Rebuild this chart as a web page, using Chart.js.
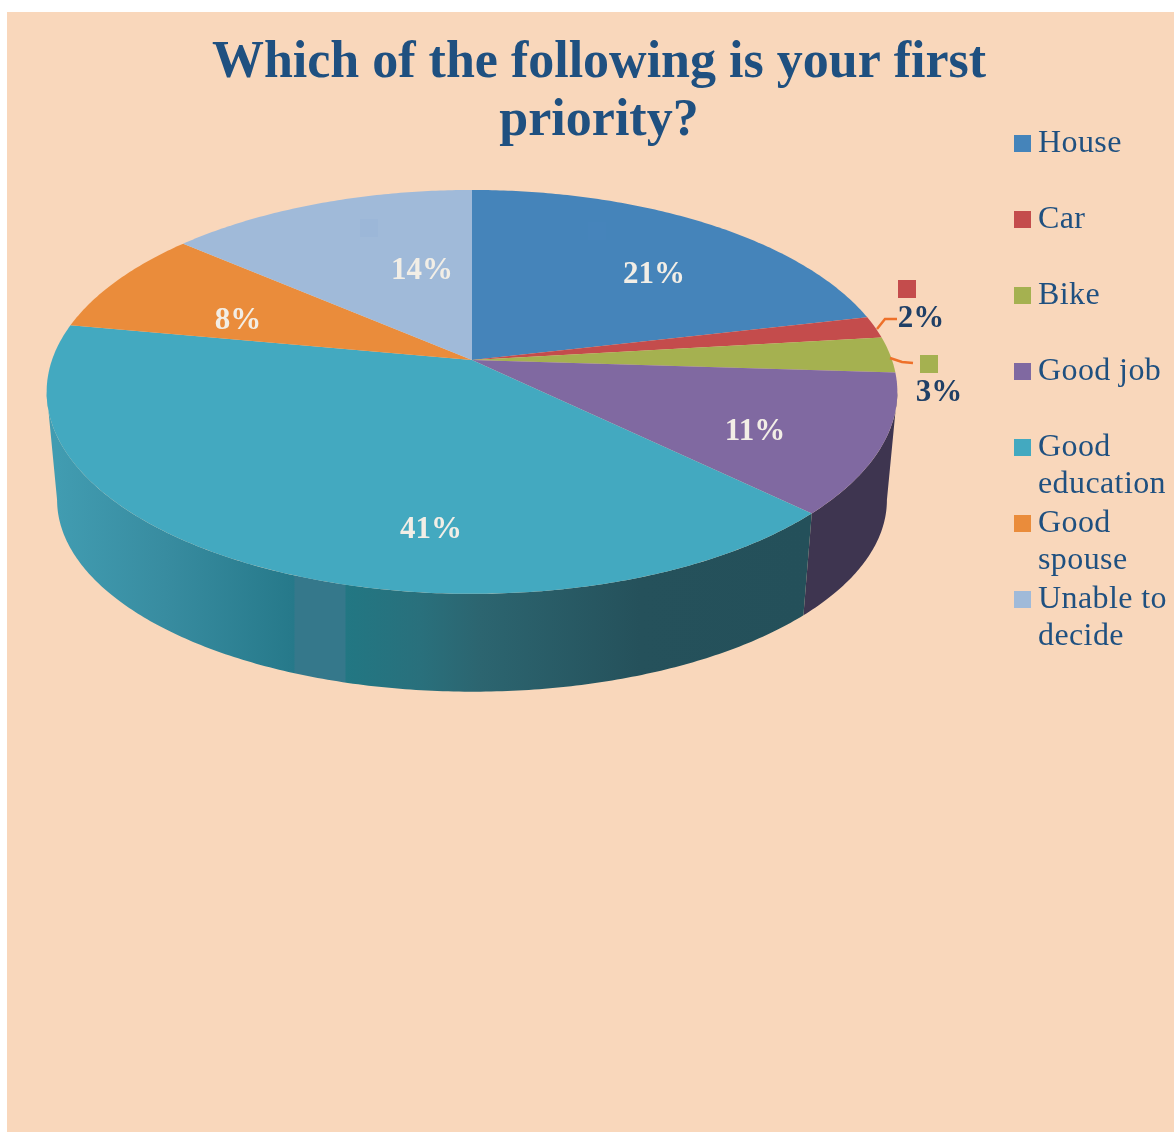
<!DOCTYPE html>
<html>
<head>
<meta charset="utf-8">
<title>First priority</title>
<script src="https://cdn.jsdelivr.net/npm/chart.js@4/dist/chart.umd.min.js"></script>
<style>
  html, body { margin: 0; padding: 0; background: #fff; }
  #peach { position: absolute; left: 7px; top: 12px; width: 1167px; height: 1120px; background: #f9d7bb; }
  #priority { position: absolute; left: 0; top: 0; }
</style>
</head>
<body>
<div id="peach"></div>
<canvas id="priority" width="1174" height="1132"></canvas>
<script>
// the answers, in the order they go round the pie
const categories = ['House', 'Car', 'Bike', 'Good job', ['Good', 'education'], ['Good', 'spouse'], ['Unable to', 'decide']]
const shares = [21.4, 1.75, 2.85, 11.2, 40.7, 8.4, 13.7]
const sliceColors = ['#4584ba', '#c44c4c', '#a5b150', '#8069a1', '#43a9c0', '#ea8c3b', '#a0bad9']

const titleLines = ['Which of the following is your first', 'priority?']

// where the percent text sits, same order as categories
const labelSpots = [[654, 275], [921, 319], [939, 393], [755, 432], [431, 530], [238, 321], [422, 271]]
const labelColors = ['#f2eee6', '#1f3f66', '#1f3f66', '#f2eee6', '#f2eee6', '#f2eee6', '#f2eee6']
const outerKeys = [[1, 898, 280], [2, 920, 355]]
const faintKeys = [[0, 588, 222], [6, 360, 219]]
const leaders = [[[877, 329], [885, 319], [897, 319]], [[890, 358], [902, 362], [913, 363]]]

// flat disc seen in perspective: apex is not the middle of the ellipse
const tilt = 0.158
const topFace = { x: 472, y: 360, a: 420, b: 196.9 }
const bottomFace = { x: 472, y: 469.6, a: 409.7, b: 187 }
const silhouette = Math.acos(-tilt)

function project(face, theta) {
  const u = Math.sin(theta)
  const v = -Math.cos(theta)
  const w = 1 - tilt * v
  return [face.x + face.a * u / w, face.y + face.b * v / w]
}

function traceArc(ctx, face, from, to) {
  const steps = Math.max(2, Math.ceil(Math.abs(to - from) * 90))
  for (let i = 0; i <= steps; i++) {
    const p = project(face, from + (to - from) * i / steps)
    ctx.lineTo(p[0], p[1])
  }
}

function sideFill(ctx, index) {
  if (index == 3) return '#3e3550'
  const g = ctx.createLinearGradient(57, 0, 806, 0)
  const stops = [[57, '#419cb1'], [165, '#388ca0'], [294, '#26798a'], [295, '#35788b'],
    [345, '#35788b'], [346, '#227783'], [420, '#29707c'], [480, '#2c6570'], [640, '#25515b'], [806, '#24505a']]
  stops.forEach(s => g.addColorStop((s[0] - 57) / (806 - 57), s[1]))
  return g
}

const piePlugin = {
  id: 'perspectivePie',
  beforeDatasetDraw(chart) {
    const ctx = chart.ctx
    const arcs = chart.getDatasetMeta(0).data
    const thetas = arcs.map(a => [a.startAngle + Math.PI / 2, a.endAngle + Math.PI / 2])

    ctx.save()
    // the wall first, only the part that faces us
    thetas.forEach((t, i) => {
      const from = Math.max(t[0], silhouette)
      const to = Math.min(t[1], 2 * Math.PI - silhouette)
      if (to <= from) return
      ctx.beginPath()
      traceArc(ctx, topFace, from, to)
      traceArc(ctx, bottomFace, to, from)
      ctx.closePath()
      ctx.fillStyle = sideFill(ctx, i)
      ctx.fill()
    })

    thetas.forEach((t, i) => {
      ctx.beginPath()
      ctx.moveTo(topFace.x, topFace.y)
      traceArc(ctx, topFace, t[0], t[1])
      ctx.closePath()
      ctx.fillStyle = arcs[i].options.backgroundColor
      ctx.fill()
    })
    ctx.restore()
    return false
  },
  afterDatasetsDraw(chart) {
    const ctx = chart.ctx
    const colors = chart.data.datasets[0].backgroundColor
    ctx.save()

    faintKeys.forEach(k => {
      ctx.fillStyle = 'rgba(90,140,220,0.05)'
      ctx.fillRect(k[1], k[2], 18, 18)
    })
    outerKeys.forEach(k => {
      ctx.fillStyle = colors[k[0]]
      ctx.fillRect(k[1], k[2], 18, 18)
    })

    ctx.strokeStyle = '#ee7029'
    ctx.lineWidth = 2.5
    leaders.forEach(l => {
      ctx.beginPath()
      l.forEach(p => ctx.lineTo(p[0], p[1]))
      ctx.stroke()
    })

    ctx.font = 'bold 31px "Liberation Serif"'
    ctx.textAlign = 'center'
    ctx.textBaseline = 'middle'
    chart.data.datasets[0].data.forEach((v, i) => {
      ctx.fillStyle = labelColors[i]
      ctx.fillText(Math.round(v) + '%', labelSpots[i][0], labelSpots[i][1])
    })

    // legend by hand, the rows are evenly spaced whatever the line count
    ctx.textAlign = 'left'
    ctx.textBaseline = 'alphabetic'
    ctx.font = '32px "Liberation Serif"'
    ctx.letterSpacing = '0.4px'
    chart.data.labels.forEach((label, i) => {
      const base = 152 + i * 76
      ctx.fillStyle = colors[i]
      ctx.fillRect(1014, base - 17, 17, 17)
      ctx.fillStyle = '#1f5080'
      ;[].concat(label).forEach((line, n) => ctx.fillText(line, 1038, base + n * 37))
    })
    ctx.restore()
  }
}

const myChart = new Chart(document.getElementById('priority'), {
  type: 'pie',
  data: {
    labels: categories,
    datasets: [{ data: shares, backgroundColor: sliceColors, borderWidth: 0 }]
  },
  options: {
    responsive: false,
    animation: false,
    layout: { padding: { left: 24 } },
    plugins: {
      legend: { display: false },
      tooltip: { enabled: false },
      title: {
        display: true,
        text: titleLines,
        color: '#1f5080',
        font: { family: '"Liberation Serif"', size: 52, weight: 'bold', lineHeight: 1.115 },
        padding: { top: 35, bottom: 10 }
      }
    }
  },
  plugins: [piePlugin]
})
</script>
</body>
</html>
